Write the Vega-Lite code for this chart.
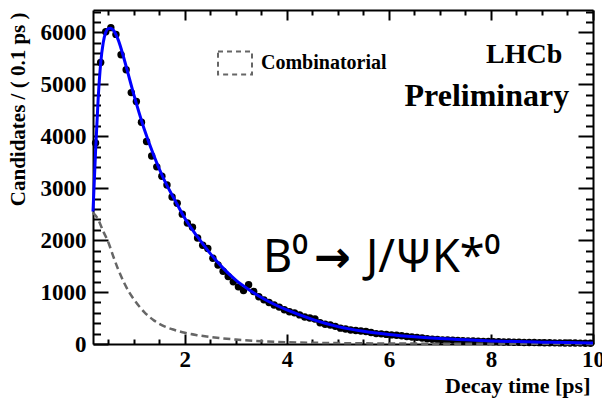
{
  "$schema": "https://vega.github.io/schema/vega-lite/v6.json",
  "width": 500,
  "height": 334,
  "autosize": "none",
  "padding": {"left": 93, "top": 10, "right": 9, "bottom": 57},
  "background": "white",
  "config": {"view": {"stroke": null}, "font": "Liberation Serif"},
  "datasets": {
    "data": [
      {"t": 0.25, "n": 3870}, {"t": 0.35, "n": 5420}, {"t": 0.45, "n": 6010}, {"t": 0.55, "n": 6090},
      {"t": 0.65, "n": 5960}, {"t": 0.75, "n": 5570}, {"t": 0.85, "n": 5280}, {"t": 0.95, "n": 4840},
      {"t": 1.05, "n": 4670}, {"t": 1.15, "n": 4270}, {"t": 1.25, "n": 3900}, {"t": 1.35, "n": 3620},
      {"t": 1.45, "n": 3410}, {"t": 1.55, "n": 3230}, {"t": 1.65, "n": 3060}, {"t": 1.75, "n": 2830},
      {"t": 1.85, "n": 2710}, {"t": 1.95, "n": 2500}, {"t": 2.05, "n": 2330}, {"t": 2.15, "n": 2250},
      {"t": 2.25, "n": 2040}, {"t": 2.35, "n": 1900}, {"t": 2.45, "n": 1840}, {"t": 2.55, "n": 1650},
      {"t": 2.65, "n": 1520}, {"t": 2.75, "n": 1400}, {"t": 2.85, "n": 1300}, {"t": 2.95, "n": 1200},
      {"t": 3.05, "n": 1100}, {"t": 3.15, "n": 1030}, {"t": 3.25, "n": 1140}, {"t": 3.35, "n": 1010},
      {"t": 3.45, "n": 910}, {"t": 3.55, "n": 850}, {"t": 3.65, "n": 800}, {"t": 3.75, "n": 750},
      {"t": 3.85, "n": 710}, {"t": 3.95, "n": 660}, {"t": 4.05, "n": 620}, {"t": 4.15, "n": 600},
      {"t": 4.25, "n": 560}, {"t": 4.35, "n": 520}, {"t": 4.45, "n": 500}, {"t": 4.55, "n": 480},
      {"t": 4.65, "n": 410}, {"t": 4.75, "n": 380}, {"t": 4.85, "n": 365}, {"t": 4.95, "n": 340},
      {"t": 5.05, "n": 305}, {"t": 5.15, "n": 290}, {"t": 5.25, "n": 270}, {"t": 5.35, "n": 260},
      {"t": 5.45, "n": 250}, {"t": 5.55, "n": 240}, {"t": 5.65, "n": 220}, {"t": 5.75, "n": 200},
      {"t": 5.85, "n": 195}, {"t": 5.95, "n": 185}, {"t": 6.05, "n": 175}, {"t": 6.15, "n": 170},
      {"t": 6.25, "n": 160}, {"t": 6.35, "n": 145}, {"t": 6.45, "n": 135}, {"t": 6.55, "n": 128},
      {"t": 6.65, "n": 115}, {"t": 6.75, "n": 100}, {"t": 6.85, "n": 92}, {"t": 6.95, "n": 88},
      {"t": 7.05, "n": 80}, {"t": 7.15, "n": 78}, {"t": 7.25, "n": 75}, {"t": 7.35, "n": 70},
      {"t": 7.45, "n": 62}, {"t": 7.55, "n": 60}, {"t": 7.65, "n": 58}, {"t": 7.75, "n": 52},
      {"t": 7.85, "n": 50}, {"t": 7.95, "n": 48}, {"t": 8.05, "n": 45}, {"t": 8.15, "n": 42},
      {"t": 8.25, "n": 40}, {"t": 8.35, "n": 38}, {"t": 8.45, "n": 35}, {"t": 8.55, "n": 33},
      {"t": 8.65, "n": 30}, {"t": 8.75, "n": 30}, {"t": 8.85, "n": 28}, {"t": 8.95, "n": 26},
      {"t": 9.05, "n": 25}, {"t": 9.15, "n": 24}, {"t": 9.25, "n": 22}, {"t": 9.35, "n": 21},
      {"t": 9.45, "n": 20}, {"t": 9.55, "n": 19}, {"t": 9.65, "n": 18}, {"t": 9.75, "n": 17},
      {"t": 9.85, "n": 16}, {"t": 9.95, "n": 15}
    ],
    "fit": [
      {"t": 0.2, "n": 2550}, {"t": 0.25, "n": 3700}, {"t": 0.3, "n": 4700}, {"t": 0.35, "n": 5400},
      {"t": 0.4, "n": 5800}, {"t": 0.45, "n": 6000}, {"t": 0.5, "n": 6070}, {"t": 0.55, "n": 6080},
      {"t": 0.6, "n": 6040}, {"t": 0.7, "n": 5840}, {"t": 0.8, "n": 5520}, {"t": 0.9, "n": 5160},
      {"t": 1.0, "n": 4800}, {"t": 1.2, "n": 4150}, {"t": 1.4, "n": 3610}, {"t": 1.6, "n": 3150},
      {"t": 1.8, "n": 2780}, {"t": 2.0, "n": 2420}, {"t": 2.25, "n": 2060}, {"t": 2.5, "n": 1740},
      {"t": 2.75, "n": 1460}, {"t": 3.0, "n": 1230}, {"t": 3.25, "n": 1050}, {"t": 3.5, "n": 895},
      {"t": 3.75, "n": 765}, {"t": 4.0, "n": 655}, {"t": 4.5, "n": 475}, {"t": 5.0, "n": 335},
      {"t": 5.5, "n": 245}, {"t": 6.0, "n": 185}, {"t": 6.5, "n": 140}, {"t": 7.0, "n": 105},
      {"t": 7.5, "n": 80}, {"t": 8.0, "n": 60}, {"t": 8.5, "n": 46}, {"t": 9.0, "n": 35},
      {"t": 9.5, "n": 27}, {"t": 10.0, "n": 21}
    ],
    "comb": [
      {"t": 0.2, "n": 2530}, {"t": 0.3, "n": 2400}, {"t": 0.4, "n": 2170}, {"t": 0.5, "n": 1960},
      {"t": 0.6, "n": 1680}, {"t": 0.7, "n": 1420}, {"t": 0.8, "n": 1200}, {"t": 0.9, "n": 1010},
      {"t": 1.0, "n": 860}, {"t": 1.2, "n": 620}, {"t": 1.4, "n": 450}, {"t": 1.6, "n": 340},
      {"t": 1.8, "n": 270}, {"t": 2.0, "n": 215}, {"t": 2.25, "n": 170}, {"t": 2.5, "n": 135},
      {"t": 3.0, "n": 85}, {"t": 3.5, "n": 55}, {"t": 4.0, "n": 35}, {"t": 5.0, "n": 18},
      {"t": 6.0, "n": 10}, {"t": 8.0, "n": 4}, {"t": 10.0, "n": 2}
    ]
  },
  "layer": [
    {
      "data": {"name": "data"},
      "mark": {"type": "circle", "size": 55, "color": "black", "opacity": 1},
      "encoding": {
        "x": {"field": "t", "type": "quantitative", "scale": {"domain": [0.2, 10], "nice": false, "zero": false},
          "axis": {"orient": "bottom", "values": [2, 4, 6, 8, 10], "ticks": false, "domain": true, "domainColor": "black", "domainWidth": 2,
            "grid": false, "labelFont": "Liberation Serif", "labelFontWeight": "bold", "labelFontSize": 23, "labelColor": "black",
            "labelPadding": 4, "labelFlush": false, "labelOverlap": false, "labelBound": false, "format": "d",
            "title": "Decay time [ps]", "titleFont": "Liberation Serif", "titleFontWeight": "bold", "titleFontSize": 22, "titleColor": "black",
            "titleAnchor": "end", "titleAlign": "right", "titleBaseline": "alphabetic", "titleX": 497, "titleY": 48}},
        "y": {"field": "n", "type": "quantitative", "scale": {"domain": [0, 6430], "nice": false, "zero": false},
          "axis": {"orient": "left", "values": [0, 1000, 2000, 3000, 4000, 5000, 6000], "ticks": false, "domain": true, "domainColor": "black", "domainWidth": 2,
            "grid": false, "labelFont": "Liberation Serif", "labelFontWeight": "bold", "labelFontSize": 23, "labelColor": "black",
            "labelPadding": 7, "labelFlush": false, "labelOverlap": false, "labelBound": false, "format": "d",
            "title": "Candidates / ( 0.1 ps )", "titleFont": "Liberation Serif", "titleFontWeight": "bold", "titleFontSize": 21, "titleColor": "black",
            "titleAnchor": "end", "titleAngle": 270, "titleAlign": "right", "titleBaseline": "alphabetic", "titleX": -69, "titleY": 2}}
      }
    },
    {
      "data": {"name": "comb"},
      "mark": {"type": "line", "strokeDash": [7, 4], "strokeWidth": 2.5, "interpolate": "monotone"},
      "encoding": {
        "x": {"field": "t", "type": "quantitative", "scale": {"domain": [0.2, 10], "nice": false, "zero": false},
          "axis": {"orient": "bottom", "values": [2, 4, 6, 8, 10], "labels": false, "domain": false, "grid": false, "title": null,
            "tickSize": -10, "tickWidth": 2, "tickColor": "black"}},
        "y": {"field": "n", "type": "quantitative", "scale": {"domain": [0, 6430], "nice": false, "zero": false},
          "axis": {"orient": "left", "values": [0, 1000, 2000, 3000, 4000, 5000, 6000], "labels": false, "domain": false, "grid": false, "title": null,
            "tickSize": -15, "tickWidth": 2, "tickColor": "black"}},
        "color": {"datum": "Combinatorial", "type": "nominal", "scale": {"range": ["#666666"]},
          "legend": {"orient": "none", "legendX": 124, "legendY": 35, "title": null, "padding": 0,
            "symbolType": "M-1,-0.68H1V0.68H-1Z", "symbolSize": 1156, "symbolStrokeWidth": 2, "symbolDash": [5, 4],
            "symbolStrokeColor": "#666666", "symbolFillColor": "transparent",
            "labelFont": "Liberation Serif", "labelFontWeight": "bold", "labelFontSize": 20, "labelColor": "black", "labelOffset": 8}}
      }
    },
    {
      "data": {"name": "fit"},
      "mark": {"type": "line", "color": "#0000ff", "strokeWidth": 3, "interpolate": "monotone"},
      "encoding": {
        "x": {"field": "t", "type": "quantitative", "scale": {"domain": [0.2, 10], "nice": false, "zero": false},
          "axis": {"orient": "bottom", "values": [0.5, 1, 1.5, 2.5, 3, 3.5, 4.5, 5, 5.5, 6.5, 7, 7.5, 8.5, 9, 9.5], "labels": false, "domain": false, "grid": false, "title": null,
            "tickSize": -5, "tickWidth": 2, "tickColor": "black"}},
        "y": {"field": "n", "type": "quantitative", "scale": {"domain": [0, 6430], "nice": false, "zero": false},
          "axis": {"orient": "left", "values": [200, 400, 600, 800, 1200, 1400, 1600, 1800, 2200, 2400, 2600, 2800, 3200, 3400, 3600, 3800, 4200, 4400, 4600, 4800, 5200, 5400, 5600, 5800, 6200, 6400], "labels": false, "domain": false, "grid": false, "title": null,
            "tickSize": -7.5, "tickWidth": 2, "tickColor": "black"}}
      }
    },
    {
      "data": {"values": [{"t": 8.65, "n": 5414, "label": "LHCb"}]},
      "mark": {"type": "text", "font": "Liberation Serif", "fontWeight": "bold", "fontSize": 28, "align": "center", "baseline": "alphabetic", "color": "black"},
      "encoding": {
        "text": {"field": "label"},
        "x": {"field": "t", "type": "quantitative", "scale": {"domain": [0.2, 10], "nice": false, "zero": false},
          "axis": {"orient": "top", "values": [2, 4, 6, 8, 10], "labels": false, "domain": true, "domainColor": "black", "domainWidth": 2, "grid": false, "title": null,
            "tickSize": -10, "tickWidth": 2, "tickColor": "black"}},
        "y": {"field": "n", "type": "quantitative", "scale": {"domain": [0, 6430], "nice": false, "zero": false},
          "axis": {"orient": "right", "values": [0, 1000, 2000, 3000, 4000, 5000, 6000], "labels": false, "domain": true, "domainColor": "black", "domainWidth": 2, "grid": false, "title": null,
            "tickSize": -15, "tickWidth": 2, "tickColor": "black"}}
      }
    },
    {
      "data": {"values": [{"t": 7.92, "n": 4586, "label": "Preliminary"}]},
      "mark": {"type": "text", "font": "Liberation Serif", "fontWeight": "bold", "fontSize": 32, "align": "center", "baseline": "alphabetic", "color": "black"},
      "encoding": {
        "text": {"field": "label"},
        "x": {"field": "t", "type": "quantitative", "scale": {"domain": [0.2, 10], "nice": false, "zero": false},
          "axis": {"orient": "top", "values": [0.5, 1, 1.5, 2.5, 3, 3.5, 4.5, 5, 5.5, 6.5, 7, 7.5, 8.5, 9, 9.5], "labels": false, "domain": false, "grid": false, "title": null,
            "tickSize": -5, "tickWidth": 2, "tickColor": "black"}},
        "y": {"field": "n", "type": "quantitative", "scale": {"domain": [0, 6430], "nice": false, "zero": false},
          "axis": {"orient": "right", "values": [200, 400, 600, 800, 1200, 1400, 1600, 1800, 2200, 2400, 2600, 2800, 3200, 3400, 3600, 3800, 4200, 4400, 4600, 4800, 5200, 5400, 5600, 5800, 6200, 6400], "labels": false, "domain": false, "grid": false, "title": null,
            "tickSize": -7.5, "tickWidth": 2, "tickColor": "black"}}
      }
    },
    {
      "data": {"values": [{"t": 3.53, "n": 1387, "label": "B⁰"}, {"t": 5.55, "n": 1387, "label": "J/ΨK*⁰"}]},
      "mark": {"type": "text", "font": "Noto Sans", "fontSize": 45, "align": "left", "baseline": "alphabetic", "color": "black"},
      "encoding": {
        "text": {"field": "label"},
        "x": {"field": "t", "type": "quantitative", "scale": {"domain": [0.2, 10], "nice": false, "zero": false}, "axis": null},
        "y": {"field": "n", "type": "quantitative", "scale": {"domain": [0, 6430], "nice": false, "zero": false}, "axis": null}
      }
    },
    {
      "data": {"values": [{"t": 4.89, "n": 1387, "label": "→"}]},
      "mark": {"type": "text", "font": "DejaVu Sans", "fontWeight": "bold", "fontSize": 44, "align": "center", "baseline": "alphabetic", "color": "black"},
      "encoding": {
        "text": {"field": "label"},
        "x": {"field": "t", "type": "quantitative", "scale": {"domain": [0.2, 10], "nice": false, "zero": false}, "axis": null},
        "y": {"field": "n", "type": "quantitative", "scale": {"domain": [0, 6430], "nice": false, "zero": false}, "axis": null}
      }
    }
  ],
  "resolve": {"axis": {"x": "independent", "y": "independent"}}
}
